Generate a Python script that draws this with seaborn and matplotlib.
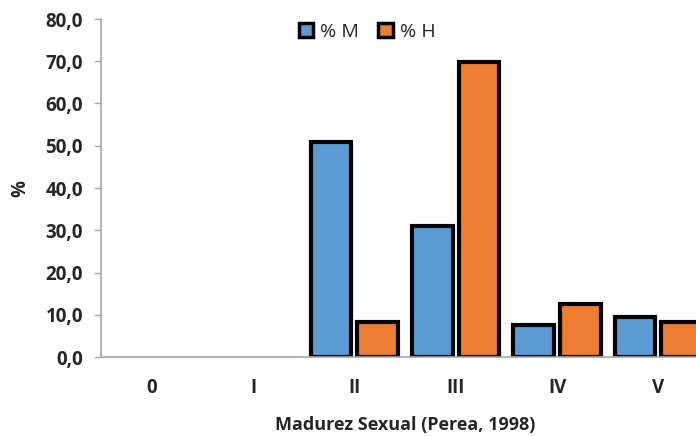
import matplotlib
matplotlib.use("Agg")
import matplotlib.pyplot as plt
from matplotlib.patches import Patch
import seaborn as sns
import pandas as pd

categories = ["0", "I", "II", "III", "IV", "V"]
pct_m = [0.0, 0.0, 50.8, 31.1, 7.6, 9.5]
pct_h = [0.0, 0.0, 8.2, 69.9, 12.5, 8.2]
series_names = ["% M", "% H"]
colors = ["#5B9BD5", "#ED7D31"]
yticks = [0, 10, 20, 30, 40, 50, 60, 70, 80]
ytick_labels = ["0,0", "10,0", "20,0", "30,0", "40,0", "50,0", "60,0", "70,0", "80,0"]

sns.set_theme(style="white")
plt.rcParams["font.family"] = ["Open Sans", "DejaVu Sans"]

df = pd.DataFrame({
    "cat": categories * 2,
    "val": pct_m + pct_h,
    "serie": [series_names[0]] * len(categories) + [series_names[1]] * len(categories),
})

fig = plt.figure(figsize=(6.96, 4.36), dpi=100)
ax = fig.add_axes([101 / 696, 1 - 357 / 436, 608 / 696, 338 / 436])

sns.barplot(data=df, x="cat", y="val", hue="serie", order=categories,
            hue_order=series_names, palette=colors, width=0.92, gap=0.13,
            edgecolor="black", linewidth=3.0, saturation=1, ax=ax, legend=False)

for p in ax.patches:
    if p.get_height() == 0:
        p.set_visible(False)

ax.set_xlim(-0.5, 5.5)
ax.set_ylim(0, 80)
ax.set_yticks(yticks)
ax.set_yticklabels(ytick_labels, fontsize=13.5, fontweight="bold")
ax.set_xticks(range(len(categories)))
ax.set_xticklabels(categories, fontsize=13.5, fontweight="bold")
ax.tick_params(axis="x", length=0, pad=15)
ax.tick_params(axis="y", length=5, width=1, color="#A6A6A6", direction="out", pad=8, left=True)
for s in ["top", "right"]:
    ax.spines[s].set_visible(False)
for s in ["left", "bottom"]:
    ax.spines[s].set_color("#A6A6A6")
    ax.spines[s].set_linewidth(1.2)

ax.set_xlabel("Madurez Sexual (Perea, 1998)", fontsize=13, fontweight="bold", labelpad=13)
ax.set_ylabel("%", fontsize=13.5, fontweight="bold", labelpad=11)

handles = [Patch(facecolor=c, edgecolor="black", linewidth=2.5, label=n)
           for c, n in zip(colors, series_names)]
ax.legend(handles=handles, loc="upper center", bbox_to_anchor=(0.4375, 1.04), ncol=2,
          frameon=False, fontsize=14, handlelength=0.75, handleheight=0.75,
          handletextpad=0.35, columnspacing=1.0)

fig.savefig("out.png", dpi=100)
